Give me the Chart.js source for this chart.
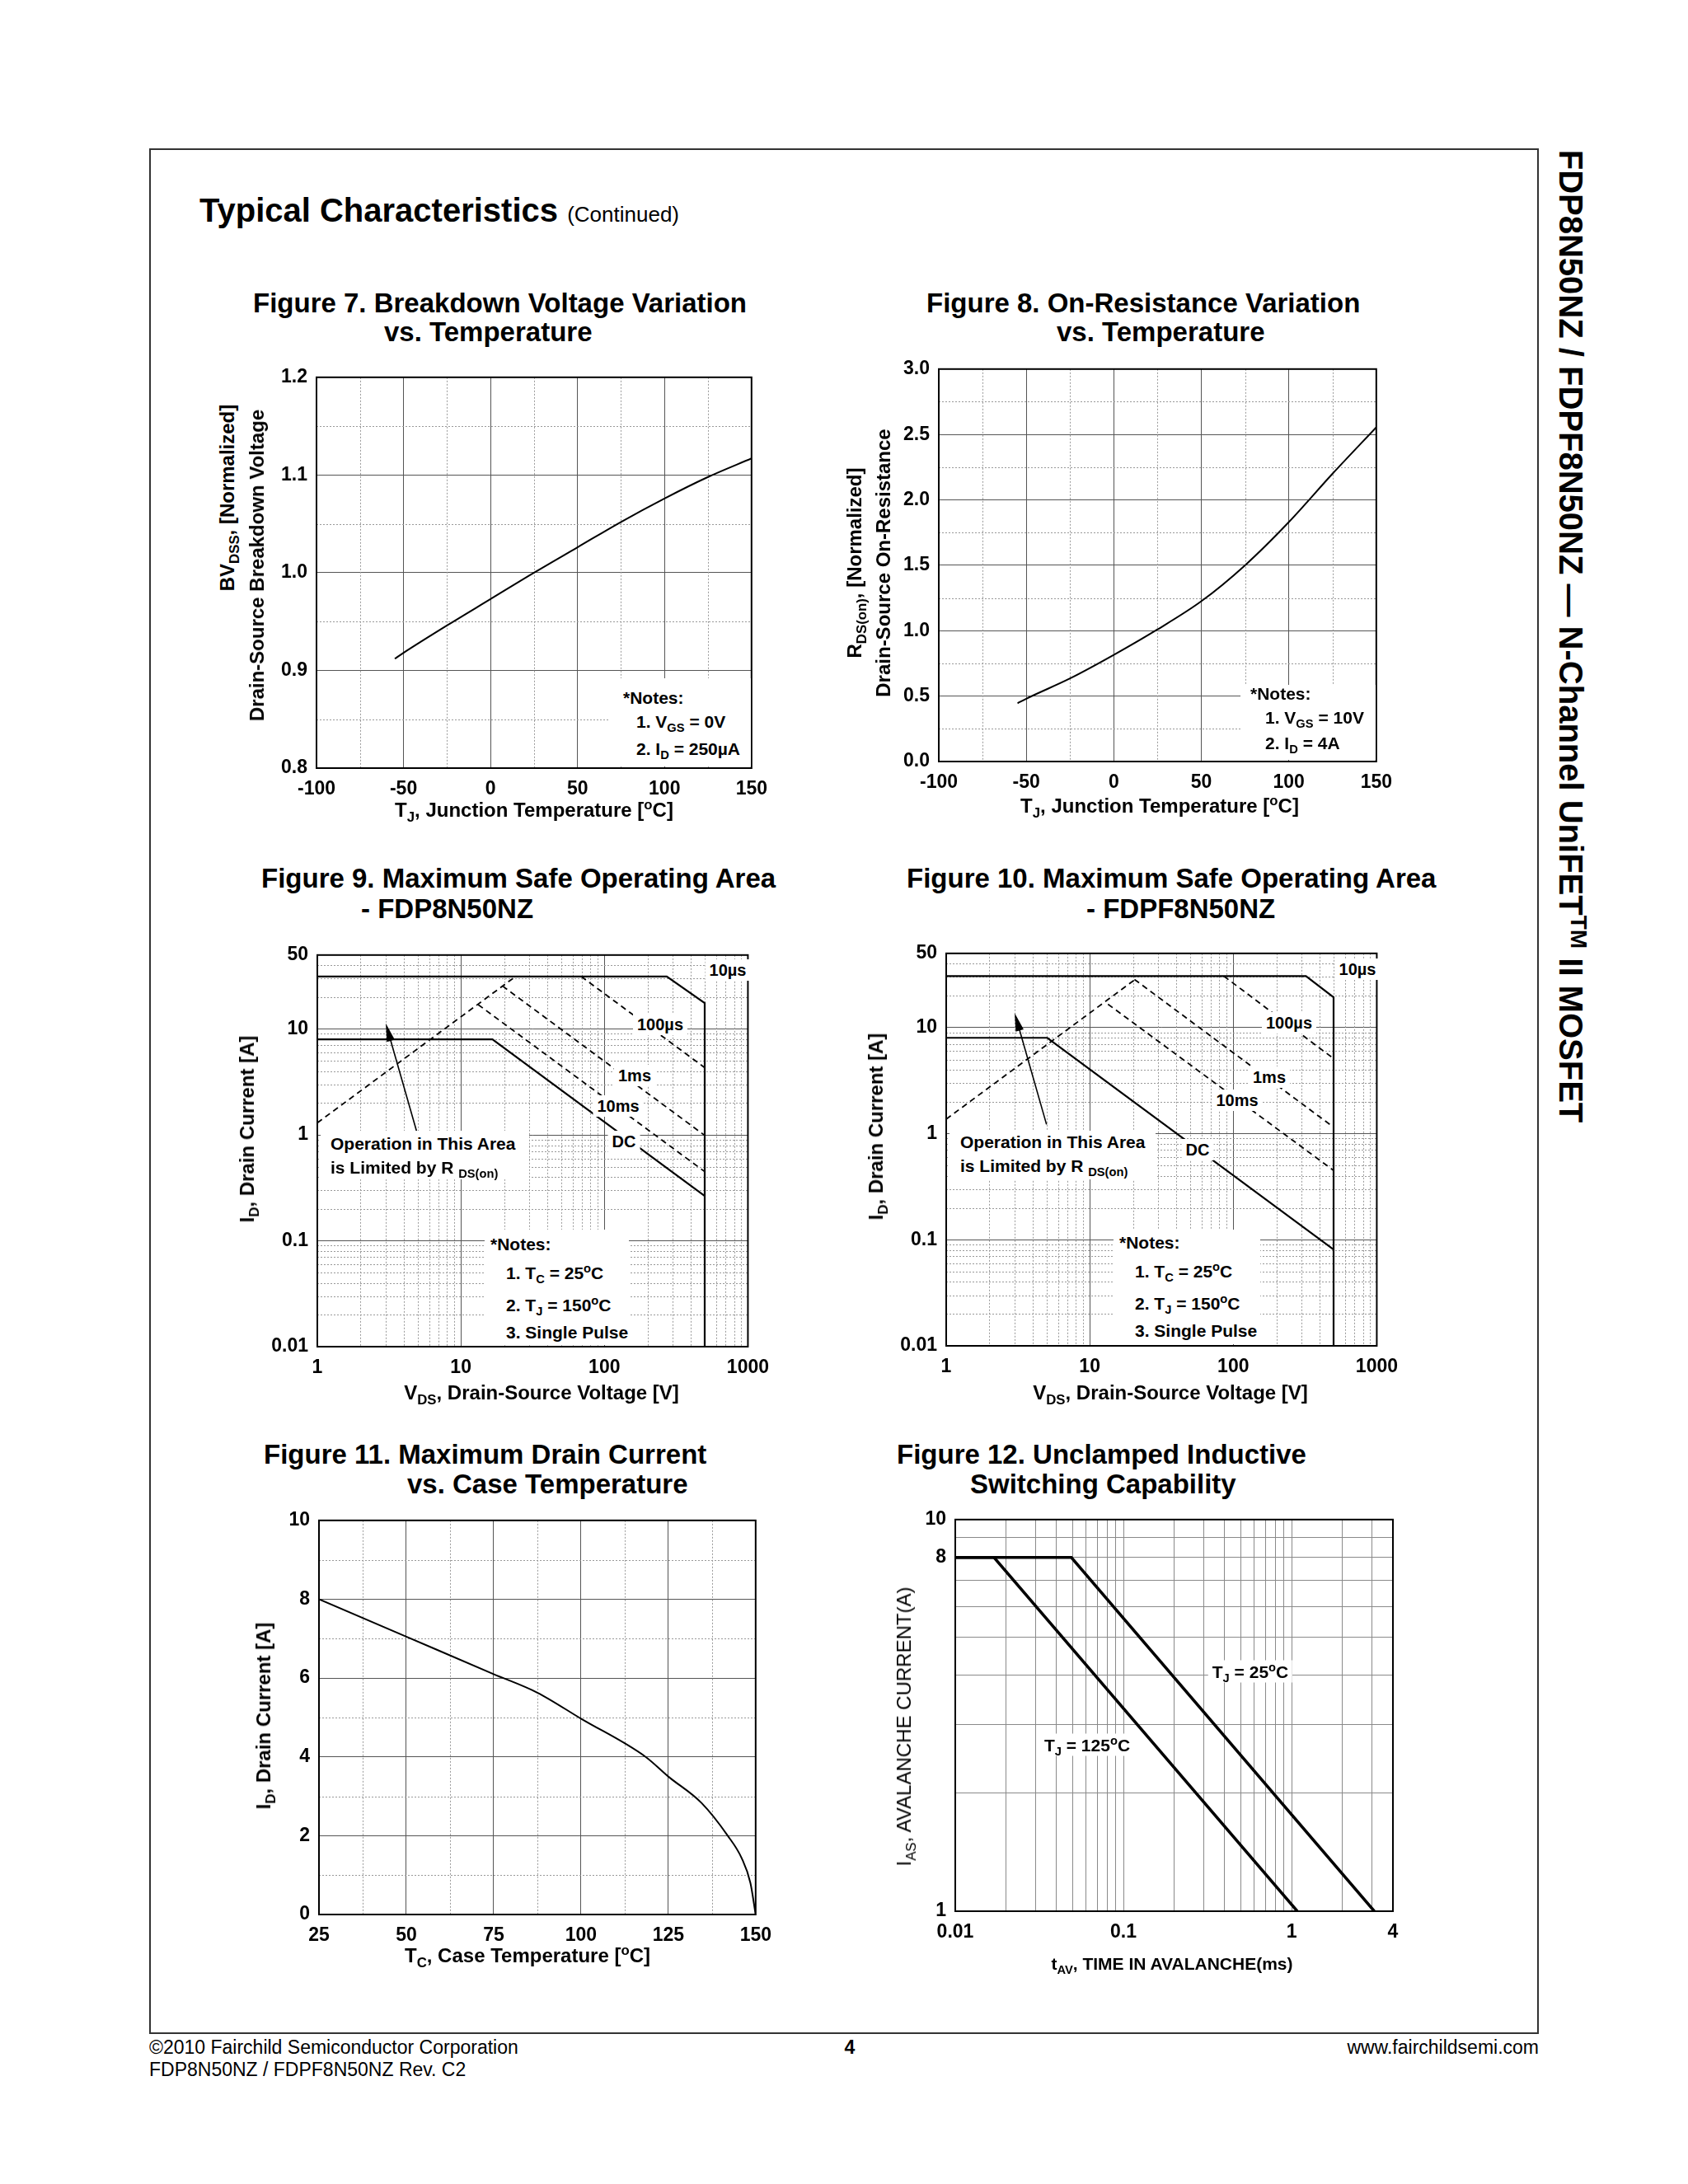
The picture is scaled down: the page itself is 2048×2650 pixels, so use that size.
<!DOCTYPE html>
<html>
<head>
<meta charset="utf-8">
<script src="https://cdn.jsdelivr.net/npm/chart.js@4.4.1/dist/chart.umd.min.js"></script>
<style>
  body { margin: 0; background: #fff; }
  #page { position: relative; width: 2048px; height: 2650px; overflow: hidden;
          font-family: "Liberation Sans", Arial, Helvetica, sans-serif; color: #000; }
  .t { position: absolute; white-space: nowrap; line-height: 1; }
  sub, sup { font-size: 70%; line-height: 0; }
  canvas { position: absolute; }
  .wb { position: absolute; background: #fff; }
  #frame { position: absolute; left: 181px; top: 180px; width: 1686px; height: 2288px;
           box-sizing: border-box; border: 2px solid #333; }
</style>
</head>
<body>
<div id="page"><div id="frame"></div></div>
<script>
// ---- data ----

// Figure 7: BVdss (normalized) vs Tj
const fig7Temp = [-55, -50, -25, 0, 25, 50, 75, 100, 125, 150];
const fig7BV = [0.912, 0.918, 0.946, 0.973, 1.0, 1.026, 1.052, 1.076, 1.098, 1.117];
const fig7XTicks = [-100, -50, 0, 50, 100, 150];
const fig7YTicks = [0.8, 0.9, 1.0, 1.1, 1.2];

// Figure 8: Rds(on) (normalized) vs Tj
const fig8Temp = [-55, -50, -25, 0, 25, 50, 75, 100, 125, 150];
const fig8Rds = [0.445, 0.48, 0.635, 0.815, 1.01, 1.225, 1.5, 1.83, 2.2, 2.555];
const fig8XTicks = [-100, -50, 0, 50, 100, 150];
const fig8YTicks = [0, 0.5, 1.0, 1.5, 2.0, 2.5, 3.0];

// Figure 9: SOA FDP8N50NZ (V, A)
const soaXTicks = [1, 10, 100, 1000];
const soaYTicks = [0.01, 0.1, 1, 10, 50];
const fig9V10us = [1, 272, 500, 500];
const fig9I10us = [31.3, 31.3, 17.6, 0.01];
const fig9VRds = [1, 24];
const fig9IRds = [1.3, 31.3];
const fig9V100us = [69, 500];
const fig9I100us = [31.3, 4.32];
const fig9V1ms = [19.5, 500];
const fig9I1ms = [25.5, 0.99];
const fig9V10ms = [13.2, 500];
const fig9I10ms = [17.0, 0.45];
const fig9VDC = [1, 16.6, 500];
const fig9IDC = [8, 8, 0.265];
const fig9ArrowV = [5.0, 3.0];
const fig9ArrowI = [1.0, 11.3];

// Figure 10: SOA FDPF8N50NZ
const fig10V10us = [1, 321, 500, 500];
const fig10I10us = [30.5, 30.5, 19.3, 0.01];
const fig10VRds = [1, 20.8];
const fig10IRds = [1.37, 28.5];
const fig10V100us = [86, 500];
const fig10I100us = [30.5, 5.1];
const fig10V1ms = [20.5, 500];
const fig10I1ms = [28.4, 1.15];
const fig10V10ms = [13.4, 500];
const fig10I10ms = [16.6, 0.45];
const fig10VDC = [1, 5.06, 500];
const fig10IDC = [8, 8, 0.081];
const fig10ArrowV = [5.0, 3.0];
const fig10ArrowI = [1.22, 13.7];

// Figure 11: max drain current vs case temperature
const fig11Temp = [25, 50, 75, 87.5, 100, 118.5, 125, 134.5, 142, 146, 148.5, 150];
const fig11Id = [8, 7.05, 6.1, 5.63, 4.97, 4.0, 3.5, 2.83, 2.0, 1.43, 0.8, 0];
const fig11XTicks = [25, 50, 75, 100, 125, 150];
const fig11YTicks = [0, 2, 4, 6, 8, 10];

// Figure 12: unclamped inductive switching (ms, A)
const fig12T25 = [0.01, 0.049, 3.1];
const fig12I25 = [8, 8, 1];
const fig12T125 = [0.01, 0.017, 1.08];
const fig12I125 = [8, 8, 1];
const fig12XTicks = [0.01, 0.1, 1, 4];
const fig12YTicks = [1, 8, 10];

// ---- layout helpers ----
const page = document.getElementById('page');
Chart.defaults.font.family = '"Liberation Sans", Arial, Helvetica, sans-serif';
Chart.defaults.color = '#000';

const PAD = { top: 20, right: 30, bottom: 10, left: 10 };
const YW = 80, XH = 50;
const MAJOR = '#555', MINOR = '#999';

function logMinors(lo, hi) {
  const out = [];
  for (let d = lo; d < hi; d *= 10) {
    for (let m = 2; m <= 9; m++) if (d * m < hi * 0.999) out.push(+(d * m).toPrecision(3));
  }
  return out;
}

// dotted minor grid, drawn through the chart's own scales
const minorGrid = {
  id: 'minorGrid',
  beforeDatasetsDraw(chart, args, opts) {
    const { ctx, chartArea: a, scales } = chart;
    ctx.save();
    ctx.strokeStyle = MINOR;
    ctx.lineWidth = 1;
    ctx.setLineDash([2, 2]);
    (opts.x || []).forEach(v => {
      const p = Math.round(scales.x.getPixelForValue(v)) + 0.5;
      ctx.beginPath(); ctx.moveTo(p, a.top); ctx.lineTo(p, a.bottom); ctx.stroke();
    });
    (opts.y || []).forEach(v => {
      const p = Math.round(scales.y.getPixelForValue(v)) + 0.5;
      ctx.beginPath(); ctx.moveTo(a.left, p); ctx.lineTo(a.right, p); ctx.stroke();
    });
    ctx.restore();
  }
};

// plot box outline
const frame = {
  id: 'frame',
  afterDatasetsDraw(chart) {
    const { ctx, chartArea: a } = chart;
    ctx.save();
    ctx.strokeStyle = '#000';
    ctx.lineWidth = 2;
    ctx.strokeRect(a.left, a.top, a.right - a.left, a.bottom - a.top);
    ctx.restore();
  }
};

// annotation arrow given in data coordinates
const arrow = {
  id: 'arrow',
  afterDatasetsDraw(chart, args, opts) {
    if (!opts.xs) return;
    const { ctx, scales: { x, y } } = chart;
    const x0 = x.getPixelForValue(opts.xs[0]), y0 = y.getPixelForValue(opts.ys[0]);
    const x1 = x.getPixelForValue(opts.xs[1]), y1 = y.getPixelForValue(opts.ys[1]);
    const a = Math.atan2(y1 - y0, x1 - x0), c = Math.cos(a), s = Math.sin(a);
    ctx.save();
    ctx.strokeStyle = '#000'; ctx.fillStyle = '#000'; ctx.lineWidth = 1.6;
    ctx.beginPath(); ctx.moveTo(x0, y0); ctx.lineTo(x1 - 16 * c, y1 - 16 * s); ctx.stroke();
    ctx.beginPath();
    ctx.moveTo(x1, y1);
    ctx.lineTo(x1 - 22 * c + 5 * s, y1 - 22 * s - 5 * c);
    ctx.lineTo(x1 - 22 * c - 5 * s, y1 - 22 * s + 5 * c);
    ctx.closePath(); ctx.fill();
    ctx.restore();
  }
};

function place(box) {
  const c = document.createElement('canvas');
  const w = box[2] - box[0] + PAD.left + YW + PAD.right;
  const h = box[3] - box[1] + PAD.top + XH + PAD.bottom;
  c.width = w; c.height = h;
  c.style.width = w + 'px'; c.style.height = h + 'px';
  c.style.left = (box[0] - PAD.left - YW) + 'px';
  c.style.top = (box[1] - PAD.top) + 'px';
  page.appendChild(c);
  return c;
}

function axis(kind, type, min, max, ticks, fmt, gridColor) {
  return {
    type, min, max, bounds: 'data',
    afterBuildTicks: s => { s.ticks = ticks.map(v => ({ value: v })); },
    afterFit: s => { if (kind === 'x') s.height = XH; else s.width = YW; },
    ticks: {
      autoSkip: false, maxRotation: 0, minRotation: 0,
      padding: kind === 'x' ? 12 : 11, color: '#000',
      font: { size: 23, weight: 'bold' }, callback: fmt
    },
    grid: { color: gridColor, lineWidth: 1, drawTicks: false },
    border: { display: false }
  };
}

function line(xs, ys, width, dash) {
  return {
    data: xs.map((x, k) => ({ x, y: ys[k] })),
    showLine: true, borderColor: '#000', borderWidth: width,
    borderDash: dash || [], pointRadius: 0, fill: false, tension: 0
  };
}

function smooth(xs, ys, width) {
  return Object.assign(line(xs, ys, width), { cubicInterpolationMode: 'monotone' });
}

function makeChart(box, scales, datasets, extra) {
  return new Chart(place(box), {
    type: 'scatter',
    data: { datasets },
    options: {
      responsive: false, animation: false, devicePixelRatio: 1,
      layout: { padding: PAD },
      scales,
      plugins: Object.assign({ legend: { display: false }, tooltip: { enabled: false } }, extra)
    },
    plugins: [minorGrid, frame, arrow]
  });
}

const fixed1 = v => v.toFixed(1);
const plain = v => String(v);
const onlyIn = list => v => (list.some(t => Math.abs(t - v) < 1e-9) ? String(v) : '');

// ---- Figure 7 ----
makeChart([384, 453, 913, 932], {
  x: axis('x', 'linear', -100, 150, fig7XTicks, plain, MAJOR),
  y: axis('y', 'linear', 0.8, 1.2, fig7YTicks, fixed1, MAJOR)
}, [smooth(fig7Temp, fig7BV, 2)], {
  minorGrid: { x: [-75, -25, 25, 75, 125], y: [0.85, 0.95, 1.05, 1.15] }
});

// ---- Figure 8 ----
makeChart([1139, 443, 1671, 924], {
  x: axis('x', 'linear', -100, 150, fig8XTicks, plain, MAJOR),
  y: axis('y', 'linear', 0, 3, fig8YTicks, fixed1, MAJOR)
}, [smooth(fig8Temp, fig8Rds, 2)], {
  minorGrid: { x: [-75, -25, 25, 75, 125], y: [0.25, 0.75, 1.25, 1.75, 2.25, 2.75] }
});

// ---- Figure 9 ----
const DASH = [7, 5];
makeChart([385, 1154, 915, 1634], {
  x: axis('x', 'logarithmic', 1, 1000, soaXTicks, plain, MAJOR),
  y: axis('y', 'logarithmic', 0.01, 50, soaYTicks, plain, MAJOR)
}, [
  line(fig9V10us, fig9I10us, 2.2),
  line(fig9VRds, fig9IRds, 1.8, DASH),
  line(fig9V100us, fig9I100us, 1.8, DASH),
  line(fig9V1ms, fig9I1ms, 1.8, DASH),
  line(fig9V10ms, fig9I10ms, 1.8, DASH),
  line(fig9VDC, fig9IDC, 2.2)
], {
  minorGrid: { x: logMinors(1, 1000), y: logMinors(0.01, 50) },
  arrow: { xs: fig9ArrowV, ys: fig9ArrowI }
});

// ---- Figure 10 ----
makeChart([1148, 1152, 1678, 1633], {
  x: axis('x', 'logarithmic', 1, 1000, soaXTicks, plain, MAJOR),
  y: axis('y', 'logarithmic', 0.01, 50, soaYTicks, plain, MAJOR)
}, [
  line(fig10V10us, fig10I10us, 2.2),
  line(fig10VRds, fig10IRds, 1.8, DASH),
  line(fig10V100us, fig10I100us, 1.8, DASH),
  line(fig10V1ms, fig10I1ms, 1.8, DASH),
  line(fig10V10ms, fig10I10ms, 1.8, DASH),
  line(fig10VDC, fig10IDC, 2.2)
], {
  minorGrid: { x: logMinors(1, 1000), y: logMinors(0.01, 50) },
  arrow: { xs: fig10ArrowV, ys: fig10ArrowI }
});

// ---- Figure 11 ----
makeChart([387, 1840, 918, 2323], {
  x: axis('x', 'linear', 25, 150, fig11XTicks, plain, MAJOR),
  y: axis('y', 'linear', 0, 10, fig11YTicks, plain, MAJOR)
}, [smooth(fig11Temp, fig11Id, 2)], {
  minorGrid: { x: [37.5, 62.5, 87.5, 112.5, 137.5], y: [1, 3, 5, 7, 9] }
});

// ---- Figure 12 ----
const fig12XGrid = [0.01, 0.1, 1, 4].concat(logMinors(0.01, 4)).sort((a, b) => a - b);
const fig12YGrid = [1, 10].concat(logMinors(1, 10)).sort((a, b) => a - b);
makeChart([1159, 1839, 1690, 2319], {
  x: axis('x', 'logarithmic', 0.01, 4, fig12XGrid, onlyIn(fig12XTicks), '#8a8a8a'),
  y: axis('y', 'logarithmic', 1, 10, fig12YGrid, onlyIn(fig12YTicks), '#8a8a8a')
}, [
  line(fig12T125, fig12I125, 3.5),
  line(fig12T25, fig12I25, 3.5)
], {});

// ---- page text ----
function text(html, x, y, size, opt) {
  opt = opt || {};
  const d = document.createElement('div');
  d.className = 't';
  d.innerHTML = html;
  d.style.fontSize = size + 'px';
  d.style.fontWeight = opt.weight || 'bold';
  let tf = 'translateY(-50%)';
  if (opt.anchor === 'center') tf = 'translate(-50%,-50%)';
  if (opt.anchor === 'right') tf = 'translate(-100%,-50%)';
  if (opt.rotate) tf += ' rotate(' + opt.rotate + 'deg)';
  d.style.transform = tf;
  d.style.left = x + 'px';
  d.style.top = y + 'px';
  if (opt.bg) { d.style.background = '#fff'; d.style.padding = '3px 5px'; }
  page.appendChild(d);
}
function whiteBox(l, t, r, b) {
  const d = document.createElement('div');
  d.className = 'wb';
  Object.assign(d.style, { left: l + 'px', top: t + 'px', width: (r - l) + 'px', height: (b - t) + 'px' });
  page.appendChild(d);
}
const C = { anchor: 'center' };
const UP = { anchor: 'center', rotate: -90 };

text('Typical Characteristics <span style="font-size:26px;font-weight:normal">(Continued)</span>', 242, 255, 40);
text('FDP8N50NZ / FDPF8N50NZ — N-Channel UniFET<sup>TM</sup> II MOSFET', 1906, 772, 40, { anchor: 'center', rotate: 90 });

text('©2010 Fairchild Semiconductor Corporation', 181, 2484, 23, { weight: 'normal' });
text('FDP8N50NZ / FDPF8N50NZ Rev. C2', 181, 2511, 23, { weight: 'normal' });
text('4', 1031, 2484, 23, C);
text('www.fairchildsemi.com', 1867, 2484, 23, { weight: 'normal', anchor: 'right' });

// Figure 7
text('Figure 7. Breakdown Voltage Variation', 307, 367, 33);
text('vs. Temperature', 466, 402, 33);
text('BV<sub>DSS</sub>, [Normalized]', 276, 604, 24, UP);
text('Drain-Source Breakdown Voltage', 312, 686, 24, UP);
text('T<sub>J</sub>, Junction Temperature [<sup>o</sup>C]', 648, 983, 24, C);
whiteBox(740, 823, 911, 930);
text('*Notes:', 756, 846, 21);
text('1. V<sub>GS</sub> = 0V', 772, 875, 21);
text('2. I<sub>D</sub> = 250&micro;A', 772, 908, 21);

// Figure 8
text('Figure 8. On-Resistance Variation', 1124, 367, 33);
text('vs. Temperature', 1282, 402, 33);
text('R<sub>DS(on)</sub>, [Normalized]', 1037, 683, 24, UP);
text('Drain-Source On-Resistance', 1072, 683, 24, UP);
text('T<sub>J</sub>, Junction Temperature [<sup>o</sup>C]', 1407, 978, 24, C);
whiteBox(1505, 831, 1669, 922);
text('*Notes:', 1517, 841, 21);
text('1. V<sub>GS</sub> = 10V', 1535, 870, 21);
text('2. I<sub>D</sub> = 4A', 1535, 901, 21);

// Figure 9
text('Figure 9. Maximum Safe Operating Area', 317, 1065, 33);
text('- FDP8N50NZ', 438, 1102, 33);
text('I<sub>D</sub>, Drain Current [A]', 300, 1370, 24, UP);
text('V<sub>DS</sub>, Drain-Source Voltage [V]', 657, 1690, 24, C);
whiteBox(389, 1372, 642, 1431);
text('Operation in This Area', 401, 1387, 21);
text('is Limited by R <sub>DS(on)</sub>', 401, 1416, 21);
whiteBox(588, 1492, 763, 1632);
text('*Notes:', 595, 1509, 21);
text('1. T<sub>C</sub> = 25<sup>o</sup>C', 614, 1544, 21);
text('2. T<sub>J</sub> = 150<sup>o</sup>C', 614, 1583, 21);
text('3. Single Pulse', 614, 1616, 21);
text('10&micro;s', 883, 1177, 20, { anchor: 'center', bg: true });
text('100&micro;s', 801, 1243, 20, { anchor: 'center', bg: true });
text('1ms', 770, 1305, 20, { anchor: 'center', bg: true });
text('10ms', 750, 1342, 20, { anchor: 'center', bg: true });
text('DC', 757, 1385, 20, { anchor: 'center', bg: true });

// Figure 10
text('Figure 10. Maximum Safe Operating Area', 1100, 1065, 33);
text('- FDPF8N50NZ', 1318, 1102, 33);
text('I<sub>D</sub>, Drain Current [A]', 1063, 1367, 24, UP);
text('V<sub>DS</sub>, Drain-Source Voltage [V]', 1420, 1690, 24, C);
whiteBox(1152, 1372, 1402, 1431);
text('Operation in This Area', 1165, 1385, 21);
text('is Limited by R <sub>DS(on)</sub>', 1165, 1414, 21);
whiteBox(1351, 1492, 1529, 1631);
text('*Notes:', 1358, 1507, 21);
text('1. T<sub>C</sub> = 25<sup>o</sup>C', 1377, 1542, 21);
text('2. T<sub>J</sub> = 150<sup>o</sup>C', 1377, 1581, 21);
text('3. Single Pulse', 1377, 1614, 21);
text('10&micro;s', 1647, 1176, 20, { anchor: 'center', bg: true });
text('100&micro;s', 1564, 1241, 20, { anchor: 'center', bg: true });
text('1ms', 1540, 1307, 20, { anchor: 'center', bg: true });
text('10ms', 1501, 1335, 20, { anchor: 'center', bg: true });
text('DC', 1453, 1395, 20, { anchor: 'center', bg: true });

// Figure 11
text('Figure 11. Maximum Drain Current', 320, 1764, 33);
text('vs. Case Temperature', 494, 1800, 33);
text('I<sub>D</sub>, Drain Current [A]', 320, 2082, 24, UP);
text('T<sub>C</sub>, Case Temperature [<sup>o</sup>C]', 640, 2373, 24, C);

// Figure 12
text('Figure 12. Unclamped Inductive', 1088, 1764, 33);
text('Switching Capability', 1177, 1800, 33);
text('I<sub>AS</sub>, AVALANCHE CURRENT(A)', 1097, 2095, 24, { anchor: 'center', rotate: -90, weight: 'normal' });
text('t<sub>AV</sub>, TIME IN AVALANCHE(ms)', 1422, 2382, 21, C);
text('T<sub>J</sub> = 25<sup>o</sup>C', 1517, 2028, 21, { anchor: 'center', bg: true });
text('T<sub>J</sub> = 125<sup>o</sup>C', 1319, 2117, 21, { anchor: 'center', bg: true });
</script>
</body>
</html>
